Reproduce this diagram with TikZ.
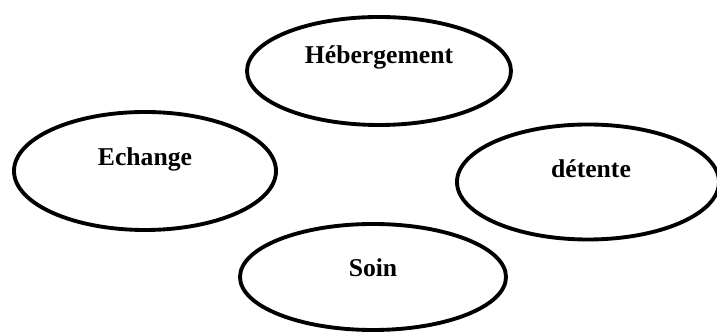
\documentclass[tikz,border=0pt]{standalone}
\usepackage{fontspec}
\setmainfont{Liberation Serif}
\usepackage{tikz}
\usetikzlibrary{shapes.geometric}
\tikzstyle{bulle} = [
  ellipse, draw=black, line width=2.2pt, inner sep=0pt
]
\tikzstyle{mot} = [
  anchor=base, inner sep=0pt,
  font=\fontsize{14.6}{17}\selectfont\bfseries
]

\begin{document}
\begin{tikzpicture}[x=0.02cm, y=-0.02cm]

  \useasboundingbox (0, 0) rectangle (717, 333);

  \node[bulle, minimum width=264*0.02cm, minimum height=108*0.02cm] (heb) at (379, 71) {};
  \node[bulle, minimum width=262*0.02cm, minimum height=118*0.02cm] (ech) at (145, 171) {};
  \node[bulle, minimum width=262*0.02cm, minimum height=115*0.02cm] (det) at (588, 182) {};
  \node[bulle, minimum width=266*0.02cm, minimum height=106*0.02cm] (soin) at (373, 277) {};

  \node[mot] (hebtxt) at (379, 64) {Hébergement};
  \node[mot] (echtxt) at (145, 166) {Echange};
  \node[mot] (dettxt) at (591, 178) {détente};
  \node[mot] (sointxt) at (373, 277) {Soin};

\end{tikzpicture}
\end{document}
